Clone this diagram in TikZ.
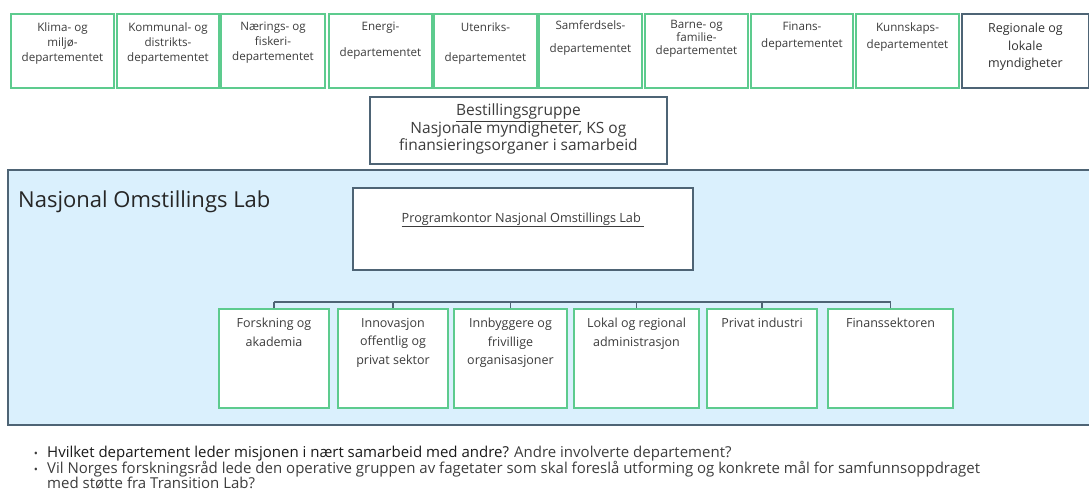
\documentclass[tikz,border=0pt]{standalone}
\usepackage{fontspec}
\setmainfont{Open Sans}
\usepackage{tikz}

\definecolor{deptgreen}{HTML}{5DCB8E}
\definecolor{slate}{HTML}{4E6475}
\definecolor{labblue}{HTML}{DAF0FD}
\definecolor{ink}{HTML}{3C3C3C}

\begin{document}
\begin{tikzpicture}[x=1pt,y=-1pt,
  deptbox/.style={draw=deptgreen,line width=2pt,fill=white,anchor=north west,inner sep=0pt},
  slatebox/.style={draw=slate,line width=1.8pt,fill=white,anchor=north west,inner sep=0pt},
  boxtext/.style={anchor=north,align=center,inner sep=0pt,text=ink},
  bus/.style={draw=slate,line width=1.2pt}]

\useasboundingbox (0,0) rectangle (1089,493);

% Departements (top row)
\def\TopY{13}
\def\TopH{74}
\foreach \nm/\xa/\xb/\dy/\txt in {
  klima/10/113/0/{Klima- og\\miljø-\\departementet},
  kommunal/116/218/0/{Kommunal- og\\distrikts-\\departementet},
  naering/220/324/0/{Nærings- og\\fiskeri-\\departementet},
  energi/328/431/0/{Energi-\\[11pt]departementet},
  utenriks/433/536/0/{Utenriks-\\[15pt]departementet},
  samferdsel/538/641/2/{Samferdsels-\\[8pt]departementet},
  barne/644/747/2/{Barne- og\\[-2pt]familie-\\[-2pt]departementet},
  finans/750/852/0/{Finans-\\[2pt]departementet},
  kunnskap/855/958/0/{Kunnskaps-\\[2pt]departementet}}
{
  \node[deptbox,minimum width=\xb-\xa,minimum height=\TopH] (\nm) at (\xa,\TopY) {};
  \node[boxtext,font=\fontsize{11.6}{15}\selectfont] (\nm-txt) at ([yshift=-9pt+\dy pt]\nm.north) {\txt};
}

% Regionale og lokale
\node[slatebox,minimum width=127,minimum height=\TopH] (regional) at (961,\TopY) {};
\node[boxtext,font=\fontsize{12.5}{17.5}\selectfont,text=black!80] (regional-txt) at ([yshift=-10pt]regional.north) {Regionale og\\lokale\\myndigheter};

% Bestillingsgruppe
\node[slatebox,minimum width=297,minimum height=67] (bestilling) at (369,96) {};
\node[boxtext,anchor=center,font=\fontsize{15.5}{17.5}\selectfont] (bestilling-txt) at ([yshift=1pt]bestilling.center) {\underline{Bestillingsgruppe}\\Nasjonale myndigheter, KS og\\finansieringsorganer i samarbeid};

% Lab frame
\node[draw=slate,line width=1.8pt,fill=labblue,anchor=north west,inner sep=0pt,minimum width=1100,minimum height=255] (lab) at (7,169) {};
\node[anchor=base west,inner sep=0pt,font=\fontsize{22}{26}\selectfont,text=black!85] (lab-title) at (18,207) {Nasjonal Omstillings Lab};

% Programkontor
\node[slatebox,minimum width=340,minimum height=82] (program) at (352,187) {};
\node[boxtext,anchor=center,font=\fontsize{12.7}{15}\selectfont] (program-txt) at ([yshift=9pt]program.center) {\underline{Programkontor Nasjonal Omstillings Lab\ }};

% Sectors (bottom row)
\foreach \nm/\xa/\xb/\txt in {
  forsk/218/328/{Forskning og\\akademia},
  innov/337/447/{Innovasjon\\offentlig og\\privat sektor},
  innb/453/566/{Innbyggere og\\frivillige\\organisasjoner},
  lokal/573/698/{Lokal og regional\\administrasjon},
  privat/706/816/{Privat industri},
  finsek/827/952/{Finanssektoren}}
{
  \node[deptbox,minimum width=\xb-\xa,minimum height=99] (\nm) at (\xa,308) {};
  \node[boxtext,font=\fontsize{12.5}{18.5}\selectfont] (\nm-txt) at ([yshift=-10pt]\nm.north) {\txt};
}

% Bus
\coordinate (busy) at (0,302);
\draw[bus] (forsk.north |- busy) -- (finsek.north |- busy);
\foreach \nm in {forsk,innov,innb,lokal,privat,finsek}
  \draw[bus] (\nm.north) -- (\nm.north |- busy);

% Questions
\node[anchor=base,inner sep=0pt,font=\fontsize{11}{16}\selectfont,text=ink] (q1-dot) at (36,457) {•};
\node[anchor=base,inner sep=0pt,font=\fontsize{11}{16}\selectfont,text=ink] (q2-dot) at (36,473) {•};
\node[anchor=base west,inner sep=0pt,font=\fontsize{15}{16}\selectfont,text=black!90] (q1) at (47,457) {Hvilket departement leder misjonen i nært samarbeid med andre? \textcolor{ink}{Andre involverte departement?}};
\node[anchor=base west,inner sep=0pt,align=left,font=\fontsize{15}{15.5}\selectfont,text=ink] (q2) at (47,488.5) {Vil Norges forskningsråd lede den operative gruppen av fagetater som skal foreslå utforming og konkrete mål for samfunnsoppdraget\\med støtte fra Transition Lab?};
\end{tikzpicture}
\end{document}
